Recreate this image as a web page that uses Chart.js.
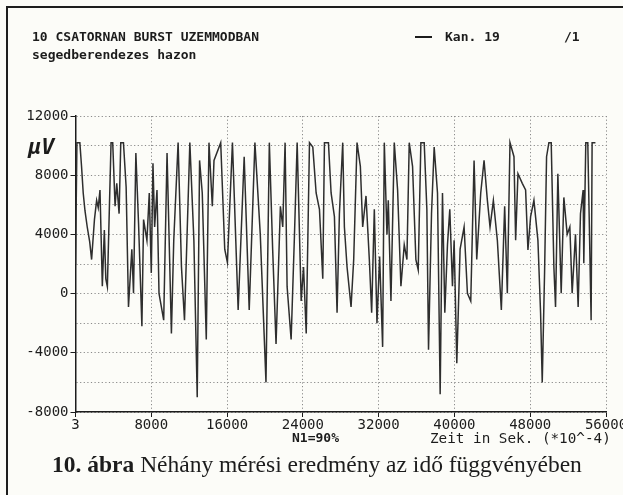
<!DOCTYPE html>
<html>
<head>
<meta charset="utf-8">
<script src="https://cdn.jsdelivr.net/npm/chart.js@4.4.1/dist/chart.umd.min.js"></script>
<style>
  html, body { margin: 0; padding: 0; background: #fcfcf8; }
  #wrap { position: relative; width: 623px; height: 495px; overflow: hidden; background: #fcfcf8; }
  #frame { position: absolute; left: 6px; top: 6px; width: 640px; height: 520px; border-left: 2px solid #1e1e1e; border-top: 2px solid #1e1e1e; }
  canvas { position: absolute; left: 0; top: 0; }
  .t { position: absolute; font-family: 'DejaVu Sans Mono', 'Liberation Mono', monospace; color: #1c1c1c; white-space: pre; line-height: 1; }
  #legline { position: absolute; left: 415px; top: 36px; width: 17px; height: 0; border-top: 2px solid #1c1c1c; }
  #cap { position: absolute; left: 52px; top: 453px; font-family: 'Liberation Serif', 'DejaVu Serif', serif; font-size: 23.5px; color: #1c1c1c; white-space: pre; line-height: 1; }
</style>
</head>
<body>
<div id="wrap">
  <canvas id="c" width="623" height="495"></canvas>
  <div id="frame"></div>
  <div class="t" style="left:32px; top:30px; font-size:13px; font-weight:bold;">10 CSATORNAN BURST UZEMMODBAN</div>
  <div class="t" style="left:32px; top:48px; font-size:13px; font-weight:bold;">segedberendezes hazon</div>
  <div id="legline"></div>
  <div class="t" style="left:445px; top:30px; font-size:13px; font-weight:bold;">Kan. 19</div>
  <div class="t" style="left:564px; top:30px; font-size:13px; font-weight:bold;">/1</div>
  <div class="t" style="left:28px; top:136px; font-size:22px; font-weight:bold; font-style:italic;">µV</div>
  <div class="t" style="left:292px; top:431px; font-size:13px; font-weight:bold;">N1=90%</div>
  <div class="t" style="left:430px; top:431px; font-size:14.3px;">Zeit in Sek. (*10^-4)</div>
  <div id="cap"><b>10. ábra</b> Néhány mérési eredmény az idő függvényében</div>
</div>
<script>
// time axis (Zeit in Sek. *10^-4)
const times = [
  0, 150, 460, 637, 814, 1000, 1239, 1500, 1700, 2000, 2230, 2400, 2584, 2832, 3044, 3200, 3363,
  3752, 3929, 4177, 4354, 4602, 4779, 5062, 5345, 5593, 5947, 6124, 6372, 6655, 7009, 7186, 7540,
  7788, 8000, 8177, 8354, 8602, 8815, 9310, 9664, 10124, 10372, 10832, 11186, 11505, 12071, 12496,
  12850, 13098, 13381, 13806, 14089, 14443, 14620, 15328, 15753, 16036, 16567, 17169, 17806, 18337,
  18939, 19505, 20107, 20461, 20815, 21169, 21629, 21877, 22125, 22337, 22762, 23116, 23399, 23824,
  24072, 24355,
  24699, 25050, 25401, 25752, 26103, 26279, 26700, 26981, 27332, 27612, 27858, 28209, 28385, 28665,
  29087, 29367, 29718, 30070, 30315, 30666, 31017, 31263, 31544, 31824, 32105, 32421, 32597, 32878,
  33018, 33299, 33650, 34001, 34352, 34703, 34984, 35229, 35580, 35931, 36177, 36458, 36809, 37090,
  37265, 37581, 37862, 38213, 38494, 38739, 38985, 39266, 39511, 39792, 39968, 40249, 40600, 41021,
  41372, 41723, 42074, 42355, 42776, 43127, 43478, 43759, 44110, 44531, 44952, 45303, 45584, 45865,
  46286, 46461, 46707, 47163, 47514, 47760, 48041, 48392, 48813, 49094, 49269, 49515, 49726, 49971,
  50217, 50498, 50673, 50919, 51270, 51551, 51902, 52183, 52428, 52779, 53060, 53306, 53587, 53657,
  53867, 54078, 54429, 54534, 54885
];
// signal (µV), channel 19
const microvolts = [
  2000, 10200, 10200, 8600, 6800, 5600, 4500, 3500, 2300, 5000, 6300, 5800, 7000, 500, 4300, 1000, 470,
  10200, 10200, 5900, 7450, 5400, 10200, 10200, 7200, -900, 3000, 20, 9500, 4750, -2200, 5000, 3600,
  6800, 1400, 8800, 4500, 7000, 20, -1800, 9500, -2700, 3600, 10200, 1800, -1800, 10200, 3600,
  -7000, 9000, 6800, -3100, 10200, 5900, 9000, 10200, 3000, 2100, 10200, -1100, 9250, -1100,
  10200, 4000, -6000, 10200, 2950, -3400, 5900, 4500, 10200, 470, -3100, 4000, 10200, -500,
  1800, -2700,
  10200, 9900, 6800, 5700, 1000, 10200, 10200, 6800, 5200, -1300, 5400, 10200, 4500, 1800,
  -900, 2300, 10200, 8600, 4500, 6600, 2300, -1300, 5700, -2000, 2500, -3600, 10200, 4000,
  6300, -500, 10200, 7000, 500, 3300, 2300, 10200, 8600, 2300, 1600, 10200, 10200, 5700,
  -3800, 5400, 9900, 6800, -6800, 6800, -1300, 3300, 5700, 500, 3600, -4700, 3000, 4500,
  20, -500, 9000, 2300, 6800, 9000, 6300, 4500, 6300, 3600, -1100, 5900, 20, 10200,
  9250, 3600, 8100, 7450, 7000, 2950, 5200, 6300, 3600, -1300, -6000, 1400, 9250, 10200,
  10200, 1800, -900, 8100, 20, 6500, 4000, 4500, 20, 4000, -900, 5400, 7000, 2050,
  10200, 10200, -1800, 10200, 10200
];
const xTicks = [0, 8000, 16000, 24000, 32000, 40000, 48000, 56000];
const xTickLabels = ['3', '8000', '16000', '24000', '32000', '40000', '48000', '56000'];
const yLabeled = [-8000, -4000, 0, 4000, 8000, 12000];

const tickFont = { family: "'DejaVu Sans Mono', 'Liberation Mono', monospace", size: 14 };

new Chart(document.getElementById('c'), {
  type: 'line',
  data: {
    datasets: [{
      data: times.map((t, i) => ({ x: t, y: microvolts[i] })),
      borderColor: '#2e2e2e',
      borderWidth: 1.5,
      pointRadius: 0,
      tension: 0,
      fill: false
    }]
  },
  options: {
    responsive: false,
    animation: false,
    events: [],
    layout: { padding: { left: 0, top: 116, right: 17, bottom: 0 } },
    plugins: { legend: { display: false }, tooltip: { enabled: false }, title: { display: false } },
    scales: {
      x: {
        type: 'linear', min: 0, max: 56000,
        afterBuildTicks: (s) => { s.ticks = xTicks.map(v => ({ value: v })); },
        afterFit: (s) => { s.height = 83; s.paddingLeft = 0; s.paddingRight = 0; },
        ticks: {
          autoSkip: false, maxRotation: 0, padding: 0, color: '#1c1c1c', font: tickFont,
          callback: (v) => { const i = xTicks.indexOf(v); return i >= 0 ? xTickLabels[i] : ''; }
        },
        grid: { color: '#8a8a8a', lineWidth: 1, tickLength: 5, tickColor: '#1c1c1c' },
        border: { display: true, color: '#1c1c1c', width: 1.5, dash: [1.2, 2.4] }
      },
      y: {
        min: -8000, max: 12000,
        ticks: {
          stepSize: 2000, padding: 2, color: '#1c1c1c', font: tickFont,
          callback: (v) => yLabeled.includes(v) ? String(v) : ''
        },
        afterFit: (s) => { s.width = 75.5; },
        grid: {
          color: '#8a8a8a', lineWidth: 1, tickLength: 5,
          tickColor: (ctx) => (ctx.tick && yLabeled.includes(ctx.tick.value)) ? '#1c1c1c' : 'rgba(0,0,0,0)'
        },
        border: { display: true, color: '#1c1c1c', width: 1.5, dash: [1.2, 2.4] }
      }
    }
  }
});
</script>
</body>
</html>
